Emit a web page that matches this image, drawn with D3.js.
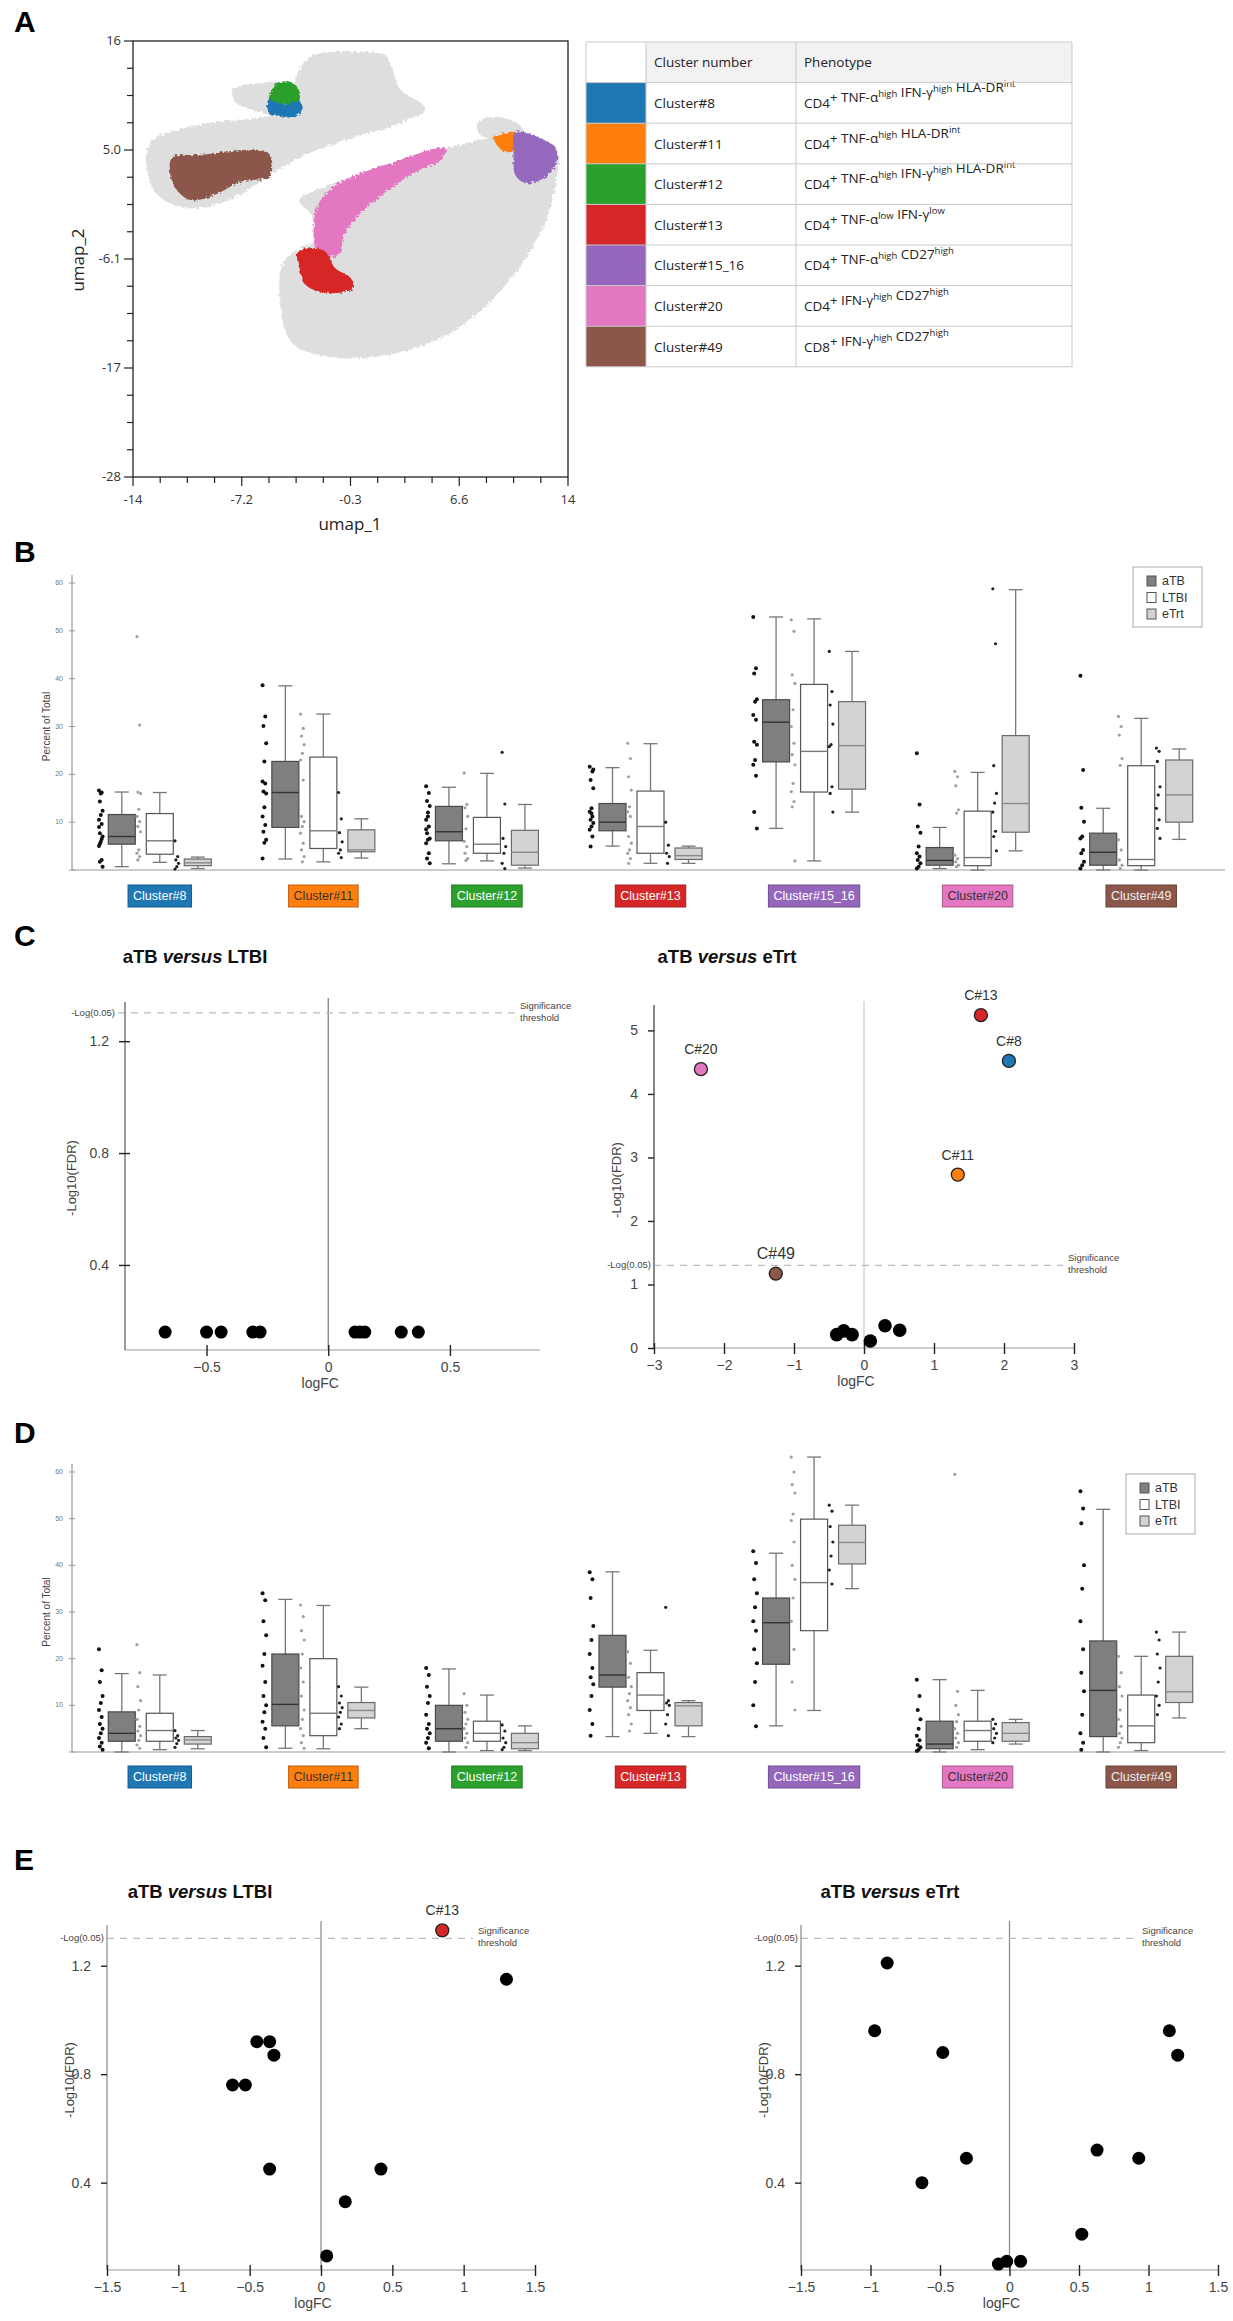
<!DOCTYPE html>
<meta charset="utf-8">
<head>
  <title>Cluster frequencies and volcano plots</title>
</head>
<style>
body { margin: 0; background: #fff; }
svg { font-family: "Liberation Sans", Arial, sans-serif; }
.tbl, .umap { font-family: "Open Sans", "Liberation Sans", sans-serif; }
</style>
<body>
<svg width="1233" height="2321"></svg>
<script src="https://cdnjs.cloudflare.com/ajax/libs/d3/7.8.5/d3.min.js"></script>
<script>
// ---------- data ----------
const clusterNames = ["Cluster#8", "Cluster#11", "Cluster#12", "Cluster#13", "Cluster#15_16", "Cluster#20", "Cluster#49"];
const clusterColors = ["#1f77b4", "#ff7f0e", "#2ca02c", "#d62728", "#9467bd", "#e377c2", "#8c564b"];
const labelTextColors = ["#fff", "#333", "#fff", "#fff", "#fff", "#333", "#eee"];
const phenotypes = [
  "CD4^+ TNF-α^high IFN-γ^high HLA-DR^int",
  "CD4^+ TNF-α^high HLA-DR^int",
  "CD4^+ TNF-α^high IFN-γ^high HLA-DR^int",
  "CD4^+ TNF-α^low IFN-γ^low",
  "CD4^+ TNF-α^high CD27^high",
  "CD4^+ IFN-γ^high CD27^high",
  "CD8^+ IFN-γ^high CD27^high"
];
const groups = ["aTB", "LTBI", "eTrt"];

// UMAP axes
const umapXTicks = ["-14", "-7.2", "-0.3", "6.6", "14"];
const umapYTicks = ["16", "5.0", "-6.1", "-17", "-28"];
// UMAP outlines (umap_1, umap_2)
const grayTop = [[-13.1,5.0],[-12.6,6.2],[-10.7,7.2],[-8.7,7.8],[-6.2,8.2],[-4.5,8.8],[-3.9,10.0],[-3.3,13.1],[-2.6,14.4],[-1.3,14.9],[0.6,14.9],[2.2,14.6],[2.7,13.1],[3.2,11.1],[4.7,9.5],[4.8,8.8],[3.8,8.2],[2.9,7.5],[0.6,6.5],[-1.3,5.5],[-3.3,4.2],[-5.2,2.5],[-7.1,0.5],[-9.4,-0.8],[-11.3,-0.6],[-12.6,0.8],[-13.1,3.0]];
const grayIsland = [[-7.6,10.9],[-7.1,11.5],[-5.7,11.7],[-4.9,11.9],[-3.3,11.3],[-3.3,9.0],[-4.2,8.2],[-5.8,8.8],[-7.1,9.5],[-7.5,10.0]];
const grayNub = [[8.3,8.0],[9.6,8.3],[10.9,7.5],[11.2,6.5],[9.3,6.0],[8.2,6.8]];
const grayLower = [[-3.3,-0.05],[-1.3,1.5],[1.3,3.0],[4.5,4.5],[7.0,5.5],[9.0,6.2],[10.3,6.5],[12.2,6.0],[13.3,5.0],[13.2,1.5],[12.7,-1.6],[11.6,-5.1],[10.0,-8.6],[8.0,-11.7],[5.8,-14.0],[3.2,-15.4],[0.6,-16.0],[-2.0,-15.7],[-3.6,-14.7],[-4.3,-12.7],[-4.4,-6.6],[-3.4,-5.1],[-2.3,-4.1],[-2.5,-1.6]];
const cl8Shape = [[-5.3,10.0],[-4.2,9.6],[-3.3,10.0],[-3.1,9.2],[-3.6,8.3],[-4.5,8.4],[-5.2,8.6]];
const cl11Shape = [[9.2,6.3],[9.9,6.7],[10.6,6.8],[10.6,5.0],[9.9,4.8],[9.3,5.8]];
const cl12Shape = [[-5.2,10.6],[-4.7,11.7],[-3.9,11.9],[-3.4,11.3],[-3.3,10.0],[-4.2,9.6],[-5.2,9.7]];
const cl13Shape = [[-3.4,-5.3],[-2.5,-4.9],[-1.6,-5.3],[-1.0,-6.9],[0.0,-7.9],[0.2,-8.9],[-0.7,-9.4],[-2.0,-9.3],[-2.9,-8.6],[-3.3,-6.9]];
const cl15Shape = [[10.6,6.8],[12.2,6.2],[13.2,5.2],[13.2,3.5],[12.5,2.2],[11.2,1.7],[10.6,2.5],[10.5,5.0]];
const cl20Shape = [[-2.2,-5.1],[-2.3,-1.6],[-1.8,0.2],[-0.7,1.7],[1.3,3.0],[3.2,4.0],[5.1,5.0],[6.1,5.2],[5.8,4.0],[4.2,2.8],[2.9,1.5],[1.6,-0.05],[0.5,-1.6],[-0.4,-3.6],[-0.8,-5.6],[-1.6,-5.8]];
const cl49Shape = [[-11.5,4.2],[-9.7,4.5],[-5.3,4.7],[-5.2,2.4],[-7.1,1.8],[-8.7,0.5],[-10.3,-0.05],[-11.4,1.5]];

// Panel B: [low whisker, q1, median, q3, high whisker] per cluster
const bATB  = [[0.7,5.4,7.0,11.6,16.3],[2.3,8.9,16.2,22.7,38.5],[1.3,6.1,8.0,13.3,17.3],[5.0,8.2,10.0,13.9,21.4],[8.7,22.6,30.9,35.6,52.9],[0.3,1.0,2.0,4.7,8.9],[0,1.0,3.7,7.7,12.9]];
const bLTBI = [[1.6,3.3,6.1,11.8,16.2],[1.7,4.5,8.2,23.6,32.6],[1.9,3.5,5.4,11.0,20.2],[1.4,3.5,9.1,16.5,26.4],[1.9,16.3,24.8,38.8,52.5],[0,0.9,2.6,12.3,20.4],[0,0.9,2.2,21.8,31.7]];
const bETRT = [[0.3,0.9,1.5,2.3,2.7],[2.5,3.8,4.2,8.4,10.7],[0.4,1.0,3.7,8.3,13.7],[1.4,2.2,3.0,4.6,5.0],[12.1,16.9,26.0,35.2,45.7],[4.0,7.9,13.9,28.1,58.6],[6.4,10.0,15.7,23.0,25.3]];
const bATBdots = [
  [16.6,16.2,14.3,12.4,11.5,10.5,9.6,7.7,7.0,5.9,5.0,2.1,1.7,0.7,16.0,9.0,6.5,5.5],
  [38.6,32.1,30.1,26.5,22.7,18.5,18.1,16.4,16.0,13.1,11.2,9.4,8.0,6.3,5.7,2.4],
  [17.5,16.1,14.4,13.4,11.2,10.5,9.1,7.7,6.6,6.3,5.6,3.5,2.4,1.4,12.0,8.5],
  [21.6,20.6,18.8,17.1,12.9,12.2,11.2,10.5,9.8,9.1,8.4,7.0,4.9,21.0,11.8],
  [52.9,42.2,41.1,35.7,35.2,32.4,31.4,26.8,26.2,23.0,22.0,19.7,12.1,8.7],
  [24.4,13.7,9.1,7.8,4.9,3.5,2.8,2.1,1.4,0.7,0.3],
  [40.6,20.9,13.0,10.1,7.0,6.6,4.2,3.5,1.7,1.0,0.3]
];
const bLTBIdots = [
  [48.8,30.3,16.3,16.0,12.7,11.2,10.1,9.1,8.0,4.2,3.5,2.8,2.1],
  [32.6,29.6,28.0,26.2,24.4,23.0,18.8,11.2,10.1,9.1,7.7,5.6,4.2,2.8,1.7],
  [20.3,13.7,13.0,11.2,8.6,6.0,4.9,3.5,2.4,2.0],
  [26.5,23.3,19.5,16.7,13.2,12.2,11.2,7.0,5.6,4.2,3.5,2.4,1.4],
  [52.3,49.9,40.8,39.0,33.5,30.0,26.5,24.1,22.0,18.1,16.4,14.3,13.2,1.9],
  [20.6,19.5,17.6,12.6,11.9,3.1,2.4,1.7,1.0,0.7],
  [32.1,30.0,28.2,23.3,21.9,6.3,4.2,2.1,1.0,0.3]
];
const bETRTdots = [
  [6.1,2.8,2.1,1.4,0.7,0.2],
  [16.2,10.7,7.8,5.9,4.2,3.5,2.6],
  [24.6,13.8,6.6,4.9,3.5,1.4,0.3],
  [10.0,5.2,3.5,2.8,1.4],
  [45.7,37.3,34.5,30.5,26.2,25.8,17.4,16.0,12.1],
  [58.8,47.3,21.8,16.0,14.0,12.1,8.1,7.0,4.0],
  [25.5,24.8,22.7,17.4,15.7,12.9,10.5,8.7,6.6]
];

// Panel D
const dATB  = [[0,2.3,4.0,8.6,16.8],[0.8,5.6,10.2,21.0,32.7],[0,2.3,5.0,10.0,17.8],[3.3,13.9,16.5,25.0,38.6],[5.6,18.8,27.7,33.0,42.6],[0,0.7,1.7,6.6,15.5],[0,3.3,13.2,23.8,52.0]];
const dLTBI = [[0.5,2.3,4.6,8.3,16.5],[0.7,3.5,8.3,20.0,31.4],[0.3,2.3,4.0,6.6,12.2],[4.0,8.9,12.2,17.0,21.8],[8.9,26.0,36.3,49.9,63.2],[0.5,2.3,4.6,6.6,13.2],[0.3,2.0,5.6,12.2,20.5]];
const dETRT = [[0.7,1.7,2.6,3.3,4.6],[5.0,7.3,8.9,10.6,13.9],[0.3,0.7,2.0,4.0,5.6],[3.3,5.6,9.9,10.6,11.0],[35.0,40.3,44.9,48.6,52.9],[1.7,2.3,4.0,6.3,7.0],[7.3,10.6,12.9,20.5,25.7]];
const dATBdots = [
  [22.0,17.5,15.0,12.0,10.5,9.0,7.5,6.0,5.0,4.0,3.0,2.0,1.2,0.5],
  [34.0,32.5,28.0,25.0,21.0,18.5,15.0,12.0,10.0,8.5,6.5,5.0,3.0,1.0],
  [18.0,16.5,14.0,12.0,10.5,8.0,6.0,5.0,4.0,3.0,2.0,0.8],
  [38.5,37.0,33.0,27.0,24.0,21.0,18.0,16.0,14.5,12.0,9.0,6.0,3.5],
  [43.0,40.5,37.0,34.0,31.0,28.0,26.0,22.0,19.0,15.0,10.0,5.5],
  [15.5,12.0,9.0,7.0,5.0,3.5,2.5,1.5,1.0,0.5,0.2],
  [55.9,52.2,49.0,40.0,35.0,28.0,22.0,17.0,13.0,8.0,4.0,2.0,0.5]
];
const dLTBIdots = [
  [23.0,17.0,14.0,11.0,9.0,7.0,5.5,4.5,3.5,2.5,1.5,0.8],
  [31.5,29.0,26.0,24.0,21.0,18.0,15.0,12.0,9.0,7.0,5.0,3.5,2.0,0.8],
  [12.5,10.0,8.5,7.0,6.0,5.0,4.0,3.0,2.0,1.0],
  [21.5,19.0,16.0,14.0,12.5,11.0,9.5,8.0,6.0,4.5],
  [63.2,60.0,57.3,55.5,51.0,49.6,45.0,40.0,37.0,33.0,28.0,22.0,15.0,9.0],
  [59.5,13.0,10.0,8.0,6.5,5.0,4.0,3.0,2.0,1.0],
  [20.5,17.0,14.0,12.0,9.0,7.0,5.5,4.0,3.0,2.0,1.0]
];
const dETRTdots = [
  [4.6,3.5,3.0,2.5,1.8,1.0],
  [14.0,12.0,10.5,9.5,8.5,7.5,6.0,5.0],
  [5.8,4.5,3.0,2.0,1.0,0.5],
  [31.0,11.0,10.5,10.0,8.0,6.0,3.5],
  [52.9,51.6,48.3,45.0,42.0,39.0,36.0],
  [7.0,6.0,5.0,4.0,3.0,2.0],
  [25.7,24.0,21.0,18.0,15.0,12.0,10.0,8.0]
];
const boxTicks = [0, 10, 20, 30, 40, 50, 60];

// Panel C volcano data
const cLtbiFC  = [-0.67,-0.50,-0.44,-0.31,-0.28,0.11,0.13,0.15,0.30,0.37];
const cLtbiFDR = [0.16,0.16,0.16,0.16,0.16,0.16,0.16,0.16,0.16,0.16];
const cEtrtFC  = [-0.39,-0.29,-0.17,0.09,0.30,0.51];
const cEtrtFDR = [0.21,0.27,0.21,0.11,0.35,0.28];
const cEtrtHitNames = ["C#20","C#13","C#8","C#11","C#49"];
const cEtrtHitFC  = [-2.33,1.67,2.07,1.34,-1.26];
const cEtrtHitFDR = [4.39,5.24,4.52,2.73,1.17];
const cEtrtHitColors = ["#e377c2","#d62728","#1f77b4","#ff7f0e","#8c564b"];

// Panel E volcano data
const eLtbiFC  = [1.3,-0.45,-0.36,-0.33,-0.62,-0.53,-0.36,0.17,0.42,0.04];
const eLtbiFDR = [1.15,0.92,0.92,0.87,0.76,0.76,0.45,0.33,0.45,0.13];
const eLtbiHitNames = ["C#13"];
const eLtbiHitFC = [0.85];
const eLtbiHitFDR = [1.33];
const eLtbiHitColors = ["#d62728"];
const eEtrtFC  = [-0.97,-0.88,-0.48,-0.63,-0.31,-0.08,-0.02,0.08,0.52,0.63,0.93,1.15,1.21];
const eEtrtFDR = [0.96,1.21,0.88,0.40,0.49,0.10,0.11,0.11,0.21,0.52,0.49,0.96,0.87];

const threshold = -Math.log10(0.05);

// ---------- drawing ----------
const svg = d3.select("svg");
const defs = svg.append("defs");
const rough = defs.append("filter").attr("id", "rough")
  .attr("x", "-10%").attr("y", "-10%").attr("width", "120%").attr("height", "120%");
rough.append("feTurbulence").attr("type", "fractalNoise").attr("baseFrequency", 0.35).attr("numOctaves", 2).attr("result", "n");
rough.append("feDisplacementMap").attr("in", "SourceGraphic").attr("in2", "n").attr("scale", 5);

// panel letters
[["A", 14, 32], ["B", 14, 562], ["C", 14, 946], ["D", 14, 1443], ["E", 14, 1870]].forEach(d => {
  svg.append("text").attr("x", d[1]).attr("y", d[2]).text(d[0])
    .attr("font-size", 30).attr("font-weight", "bold").attr("fill", "#000");
});

// ---- A: UMAP ----
const ux = d3.scaleLinear().domain([-14, 14]).range([133, 568]);
const uy = d3.scaleLinear().domain([-28, 16]).range([477, 41]);
const outline = d3.line().x(d => ux(d[0])).y(d => uy(d[1])).curve(d3.curveCatmullRomClosed.alpha(0.5));
const gU = svg.append("g").attr("class", "umap");
[grayTop, grayIsland, grayNub, grayLower].forEach(s => {
  gU.append("path").attr("d", outline(s)).attr("fill", "#dedede").attr("filter", "url(#rough)");
});
[[cl49Shape, 6], [cl20Shape, 5], [cl13Shape, 3], [cl12Shape, 2], [cl8Shape, 0], [cl11Shape, 1], [cl15Shape, 4]].forEach(s => {
  gU.append("path").attr("d", outline(s[0])).attr("fill", clusterColors[s[1]]).attr("filter", "url(#rough)");
});
gU.append("rect").attr("x", ux(-14)).attr("y", uy(16)).attr("width", ux(14) - ux(-14)).attr("height", uy(-28) - uy(16))
  .attr("fill", "none").attr("stroke", "#222").attr("stroke-width", 1.3);
// ticks: labelled majors evenly spaced, 3 minors between
const xMaj = umapXTicks.map((t, i) => ux(-14) + i * (ux(14) - ux(-14)) / 4);
const yMaj = umapYTicks.map((t, i) => uy(16) + i * (uy(-28) - uy(16)) / 4);
d3.range(17).forEach(i => {
  const px = ux(-14) + i * (ux(14) - ux(-14)) / 16;
  const py = uy(16) + i * (uy(-28) - uy(16)) / 16;
  const len = i % 4 === 0 ? 9 : 6;
  gU.append("line").attr("x1", px).attr("x2", px).attr("y1", uy(-28)).attr("y2", uy(-28) + len).attr("stroke", "#222").attr("stroke-width", 1.2);
  gU.append("line").attr("x1", ux(-14) - len).attr("x2", ux(-14)).attr("y1", py).attr("y2", py).attr("stroke", "#222").attr("stroke-width", 1.2);
});
umapXTicks.forEach((t, i) => gU.append("text").attr("x", xMaj[i]).attr("y", 504).attr("text-anchor", "middle")
  .attr("font-size", 13).attr("fill", "#333").text(t));
umapYTicks.forEach((t, i) => gU.append("text").attr("x", 121).attr("y", yMaj[i] + 4).attr("text-anchor", "end")
  .attr("font-size", 13).attr("fill", "#333").text(t));
gU.append("text").attr("x", 350).attr("y", 530).attr("text-anchor", "middle").attr("font-size", 17).attr("fill", "#222").text("umap_1");
gU.append("text").attr("transform", "translate(84,260) rotate(-90)").attr("text-anchor", "middle").attr("font-size", 17).attr("fill", "#222").text("umap_2");

// ---- A: table ----
const colX = [586, 646, 796, 1072];
const rowH = 40.6, tblTop = 42;
const gT = svg.append("g").attr("class", "tbl");
gT.append("rect").attr("x", colX[1]).attr("y", tblTop).attr("width", colX[3] - colX[1]).attr("height", rowH).attr("fill", "#f2f2f2");
clusterNames.forEach((c, i) => {
  const y0 = tblTop + (i + 1) * rowH;
  gT.append("rect").attr("x", colX[0]).attr("y", y0).attr("width", colX[1] - colX[0]).attr("height", rowH).attr("fill", clusterColors[i]);
  gT.append("text").attr("x", colX[1] + 8).attr("y", y0 + rowH / 2 + 5).attr("font-size", 13.5).attr("fill", "#222").text(c);
  const t = gT.append("text").attr("x", colX[2] + 8).attr("y", y0 + rowH / 2 + 5).attr("font-size", 13.5).attr("fill", "#222");
  phenotypes[i].split(" ").forEach((tok, k) => {
    const parts = tok.split("^");
    t.append("tspan").text((k ? " " : "") + parts[0]);
    if (parts[1]) {
      const plus = parts[1] === "+";
      t.append("tspan").attr("dy", plus ? -6 : -5).attr("font-size", plus ? 13 : 9.5).text(parts[1]);
      t.append("tspan").attr("dy", plus ? 6 : 5).text("");
    }
  });
});
gT.append("text").attr("x", colX[1] + 8).attr("y", tblTop + rowH / 2 + 5).attr("font-size", 13.5).attr("fill", "#222").text("Cluster number");
gT.append("text").attr("x", colX[2] + 8).attr("y", tblTop + rowH / 2 + 5).attr("font-size", 13.5).attr("fill", "#222").text("Phenotype");
d3.range(9).forEach(i => gT.append("line").attr("x1", colX[0]).attr("x2", colX[3])
  .attr("y1", tblTop + i * rowH).attr("y2", tblTop + i * rowH).attr("stroke", "#c9c9c9"));
colX.forEach(x => gT.append("line").attr("x1", x).attr("x2", x).attr("y1", tblTop).attr("y2", tblTop + 8 * rowH).attr("stroke", "#c9c9c9"));

// ---- B / D: box plots ----
const band = d3.scaleBand().domain(clusterNames).range([78, 1223]);
const offsets = [-38, 0, 38], boxW = 27;
const boxFill = ["#7f7f7f", "#ffffff", "#d3d3d3"];
const boxStroke = ["#4a4a4a", "#555", "#6a6a6a"];
const medStroke = ["#333", "#777", "#888"];
const dotFill = ["#111", "#a0a0a0", "#222"];
const dotR = [2, 1.6, 1.6];

function boxPanel(base, top, stats, dots, labelY, legend) {
  const y = d3.scaleLinear().domain([0, 60]).range([base, top]);
  const g = svg.append("g");
  g.append("line").attr("x1", 72).attr("x2", 1225).attr("y1", base).attr("y2", base).attr("stroke", "#999").attr("stroke-width", 1.2);
  g.append("line").attr("x1", 72).attr("x2", 72).attr("y1", base).attr("y2", top - 8).attr("stroke", "#999").attr("stroke-width", 1.2);
  boxTicks.forEach(t => {
    g.append("line").attr("x1", 69).attr("x2", 75).attr("y1", y(t)).attr("y2", y(t)).attr("stroke", "#999");
    if (t > 0) g.append("text").attr("x", 63).attr("y", y(t) + 2).attr("text-anchor", "end").attr("font-size", 7).attr("fill", "#777").text(t);
  });
  g.append("text").attr("transform", `translate(50,${(base + top) / 2}) rotate(-90)`).attr("text-anchor", "middle")
    .attr("font-size", 10).attr("fill", "#444").text("Percent of Total");

  clusterNames.forEach((c, ci) => {
    const cx = band(c) + band.bandwidth() / 2;
    groups.forEach((grp, gi) => {
      const s = stats[gi][ci];
      const bx = cx + offsets[gi];
      // jitter dots left of the box
      dots[gi][ci].forEach((v, k) => {
        g.append("circle").attr("cx", bx - 21 + ((k * 3) % 5 - 2) * 0.9).attr("cy", y(v)).attr("r", dotR[gi]).attr("fill", dotFill[gi]);
      });
      g.append("line").attr("x1", bx).attr("x2", bx).attr("y1", y(s[4])).attr("y2", y(s[3])).attr("stroke", "#777").attr("stroke-width", 1.3);
      g.append("line").attr("x1", bx).attr("x2", bx).attr("y1", y(s[1])).attr("y2", y(s[0])).attr("stroke", "#777").attr("stroke-width", 1.3);
      [s[0], s[4]].forEach(v => g.append("line").attr("x1", bx - 7).attr("x2", bx + 7).attr("y1", y(v)).attr("y2", y(v)).attr("stroke", "#777").attr("stroke-width", 1.3));
      g.append("rect").attr("x", bx - boxW / 2).attr("y", y(s[3])).attr("width", boxW).attr("height", y(s[1]) - y(s[3]))
        .attr("fill", boxFill[gi]).attr("stroke", boxStroke[gi]).attr("stroke-width", 1.2);
      g.append("line").attr("x1", bx - boxW / 2).attr("x2", bx + boxW / 2).attr("y1", y(s[2])).attr("y2", y(s[2]))
        .attr("stroke", medStroke[gi]).attr("stroke-width", 1.4);
    });
    // coloured cluster label
    const lt = g.append("text").attr("x", cx).attr("y", labelY + 15).attr("text-anchor", "middle")
      .attr("font-size", 12.5).attr("fill", labelTextColors[ci]).text(c);
    const w = lt.node().getComputedTextLength() + 10;
    g.insert("rect", () => lt.node()).attr("x", cx - w / 2).attr("y", labelY).attr("width", w).attr("height", 22)
      .attr("fill", clusterColors[ci]).attr("stroke", d3.color(clusterColors[ci]).darker(0.8));
  });

  const lg = g.append("g").attr("transform", `translate(${legend[0]},${legend[1]})`);
  lg.append("rect").attr("width", 69).attr("height", 60).attr("fill", "#fff").attr("stroke", "#aaa");
  groups.forEach((grp, gi) => {
    lg.append("rect").attr("x", 14).attr("y", 9 + gi * 16.5).attr("width", 9).attr("height", 10)
      .attr("fill", boxFill[gi]).attr("stroke", "#555");
    lg.append("text").attr("x", 29).attr("y", 18 + gi * 16.5).attr("font-size", 12.5).attr("fill", "#333").text(grp);
  });
}

boxPanel(870, 583, [bATB, bLTBI, bETRT], [bATBdots, bLTBIdots, bETRTdots], 885, [1133, 567]);
boxPanel(1752, 1472, [dATB, dLTBI, dETRT], [dATBdots, dLTBIdots, dETRTdots], 1766, [1126, 1474]);

// ---- C / E: volcano plots ----
const tickFmt = d3.format("~g");
function volcano(o) {
  const x = d3.scaleLinear().domain(o.xd).range(o.xr);
  const y = d3.scaleLinear().domain(o.yd).range(o.yr);
  const g = svg.append("g");
  const base = o.yr[0];
  // title
  const tt = g.append("text").attr("x", o.titleX).attr("y", o.titleY).attr("text-anchor", "middle")
    .attr("font-size", 18.5).attr("font-weight", "bold").attr("fill", "#111");
  tt.append("tspan").text("aTB ");
  tt.append("tspan").attr("font-style", "italic").text("versus");
  tt.append("tspan").text(" " + o.other);
  // zero line
  g.append("line").attr("x1", x(0)).attr("x2", x(0)).attr("y1", o.yr[1] - 4).attr("y2", base).attr("stroke", o.zeroColor).attr("stroke-width", 1.2);
  // threshold
  g.append("line").attr("x1", o.dashX[0]).attr("x2", o.dashX[1]).attr("y1", y(threshold)).attr("y2", y(threshold))
    .attr("stroke", "#bbb").attr("stroke-width", 1.3).attr("stroke-dasharray", "7,6");
  g.append("text").attr("x", o.dashX[0] - 3).attr("y", y(threshold) + 3).attr("text-anchor", "end")
    .attr("font-size", 9.5).attr("fill", "#444").text("-Log(0.05)");
  g.append("text").attr("x", o.dashX[1] + 5).attr("y", y(threshold) - 4).attr("font-size", 9.5).attr("fill", "#444").text("Significance");
  g.append("text").attr("x", o.dashX[1] + 5).attr("y", y(threshold) + 8).attr("font-size", 9.5).attr("fill", "#444").text("threshold");
  // axes
  g.append("line").attr("x1", o.xr[0]).attr("x2", o.xr[1]).attr("y1", base).attr("y2", base).attr("stroke", "#bbb").attr("stroke-width", 1.6);
  g.append("line").attr("x1", o.xr[0]).attr("x2", o.xr[0]).attr("y1", base).attr("y2", o.yr[1]).attr("stroke", o.yAxisColor).attr("stroke-width", o.yAxisW);
  const xa = g.append("g").attr("transform", `translate(0,${base})`)
    .call(d3.axisBottom(x).tickValues(o.xt).tickFormat(tickFmt).tickSizeInner(6).tickSizeOuter(0).tickPadding(6));
  xa.select(".domain").remove();
  xa.selectAll(".tick line").attr("y1", -5).attr("y2", 6).attr("stroke", "#222").attr("stroke-width", 1.4);
  xa.selectAll(".tick text").attr("font-size", 14).attr("fill", "#444").attr("font-family", "Liberation Sans, Arial, sans-serif");
  const ya = g.append("g").attr("transform", `translate(${o.xr[0]},0)`)
    .call(d3.axisLeft(y).tickValues(o.yt).tickFormat(o.yf).tickSizeInner(6).tickSizeOuter(0).tickPadding(10));
  ya.select(".domain").remove();
  ya.selectAll(".tick line").attr("x2", o.yTickCross ? 5 : 0).attr("x1", -6).attr("stroke", "#222").attr("stroke-width", 1.4);
  ya.selectAll(".tick text").attr("font-size", 14).attr("fill", "#444").attr("font-family", "Liberation Sans, Arial, sans-serif");
  g.append("text").attr("x", x(0) - 8).attr("y", base + 38).attr("text-anchor", "middle").attr("font-size", 14).attr("fill", "#444").text("logFC");
  g.append("text").attr("transform", `translate(${o.yLabX},${o.yLabY}) rotate(-90)`).attr("text-anchor", "middle")
    .attr("font-size", 13).attr("fill", "#444").text("-Log10(FDR)");
  // points
  o.fc.forEach((v, i) => g.append("circle").attr("cx", x(v)).attr("cy", y(o.fdr[i])).attr("r", o.r).attr("fill", "#000"));
  o.hitFC.forEach((v, i) => {
    g.append("circle").attr("cx", x(v)).attr("cy", y(o.hitFDR[i])).attr("r", 6.5)
      .attr("fill", o.hitColors[i]).attr("stroke", "#222").attr("stroke-width", 1.3);
    g.append("text").attr("x", x(v)).attr("y", y(o.hitFDR[i]) - 15).attr("text-anchor", "middle")
      .attr("font-size", o.hitNames[i] === "C#49" ? 16 : 14).attr("fill", "#333").text(o.hitNames[i]);
  });
}

volcano({ other: "LTBI", titleX: 195, titleY: 963,
  xd: [-0.835, 0.87], xr: [125, 540], yd: [0.096, 1.34], yr: [1350, 1002],
  xt: [-0.5, 0, 0.5], yt: [0.4, 0.8, 1.2], yf: d3.format(".1f"), yTickCross: true,
  zeroColor: "#777", yAxisColor: "#555", yAxisW: 1.2, dashX: [118, 515],
  yLabX: 76, yLabY: 1178, r: 6.5,
  fc: cLtbiFC, fdr: cLtbiFDR, hitFC: [], hitFDR: [], hitNames: [], hitColors: [] });

volcano({ other: "eTrt", titleX: 727, titleY: 963,
  xd: [-3, 3], xr: [654, 1074], yd: [0, 5.4], yr: [1348, 1005],
  xt: [-3, -2, -1, 0, 1, 2, 3], yt: [0, 1, 2, 3, 4, 5], yf: d3.format("d"), yTickCross: false,
  zeroColor: "#ccc", yAxisColor: "#888", yAxisW: 2, dashX: [654, 1063],
  yLabX: 621, yLabY: 1180, r: 6.8,
  fc: cEtrtFC, fdr: cEtrtFDR, hitFC: cEtrtHitFC, hitFDR: cEtrtHitFDR, hitNames: cEtrtHitNames, hitColors: cEtrtHitColors });

volcano({ other: "LTBI", titleX: 200, titleY: 1898,
  xd: [-1.5, 1.5], xr: [107, 535], yd: [0.078, 1.35], yr: [2270, 1925],
  xt: [-1.5, -1, -0.5, 0, 0.5, 1, 1.5], yt: [0.4, 0.8, 1.2], yf: d3.format(".1f"), yTickCross: false,
  zeroColor: "#888", yAxisColor: "#888", yAxisW: 1.2, dashX: [107, 473],
  yLabX: 74, yLabY: 2080, r: 6.5,
  fc: eLtbiFC, fdr: eLtbiFDR, hitFC: eLtbiHitFC, hitFDR: eLtbiHitFDR, hitNames: eLtbiHitNames, hitColors: eLtbiHitColors });

volcano({ other: "eTrt", titleX: 890, titleY: 1898,
  xd: [-1.5, 1.5], xr: [801, 1218], yd: [0.078, 1.35], yr: [2270, 1925],
  xt: [-1.5, -1, -0.5, 0, 0.5, 1, 1.5], yt: [0.4, 0.8, 1.2], yf: d3.format(".1f"), yTickCross: false,
  zeroColor: "#888", yAxisColor: "#888", yAxisW: 1.2, dashX: [801, 1137],
  yLabX: 768, yLabY: 2080, r: 6.5,
  fc: eEtrtFC, fdr: eEtrtFDR, hitFC: [], hitFDR: [], hitNames: [], hitColors: [] });
</script>
</body>
</html>
